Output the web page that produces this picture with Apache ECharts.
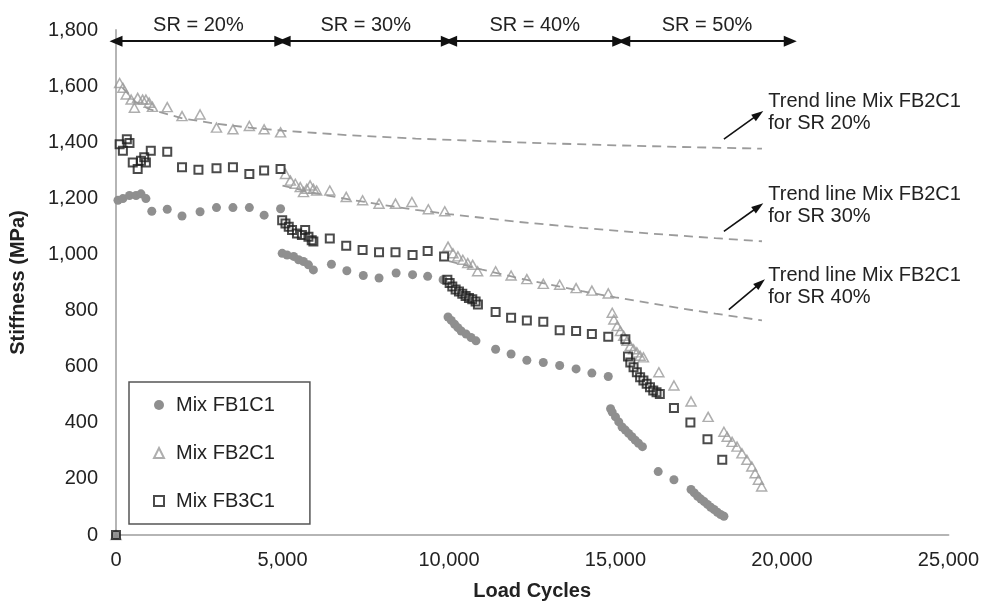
<!DOCTYPE html>
<html>
<head>
<meta charset="utf-8">
<script src="https://cdn.jsdelivr.net/npm/echarts/dist/echarts.min.js"></script>
<style>
html,body{margin:0;padding:0;background:#ffffff;}
#chart{width:982px;height:606px;}
</style>
</head>
<body>
<div id="chart"></div>
<script>
// ---------------- data ----------------
const xTickValues = [0, 5000, 10000, 15000, 20000, 25000];
const yTickValues = [0, 200, 400, 600, 800, 1000, 1200, 1400, 1600, 1800];

const seriesNames = ['Mix FB1C1', 'Mix FB2C1', 'Mix FB3C1'];

const fb1Cycles = [0,
  59, 207, 405, 602, 750, 898, 1075, 1539, 1983, 2525, 3018, 3512, 4005, 4449, 4942,
  4991, 5139, 5336, 5484, 5632, 5780, 5928, 6470, 6933, 7427, 7900, 8413, 8907, 9360, 9824,
  9972, 10070, 10169, 10268, 10366, 10515, 10663, 10811, 11401, 11866, 12339, 12833, 13325, 13818, 14292, 14784,
  14854, 14903, 15002, 15100, 15199, 15298, 15396, 15495, 15594, 15692, 15811,
  16284, 16757,
  17270, 17369, 17468, 17566, 17665, 17764, 17862, 17961, 18060, 18158, 18257];
const fb1Stiffness = [0,
  1193, 1199, 1210, 1210, 1216, 1199, 1154, 1161, 1137, 1152, 1167, 1167, 1167, 1140, 1163,
  1004, 998, 993, 981, 975, 963, 945, 965, 942, 925, 916, 934, 928, 922, 910,
  777, 765, 751, 739, 727, 716, 704, 692, 662, 645, 623, 615, 604, 592, 577, 565,
  450, 438, 421, 403, 385, 374, 362, 350, 338, 327, 315,
  226, 197,
  162, 150, 138, 128, 119, 109, 99, 91, 81, 73, 67];

const fb2Cycles = [0,
  109, 207, 306, 454, 552, 651, 799, 898, 996, 1095, 1539, 1983, 2525, 3018, 3512, 4005, 4449, 4942,
  5090, 5237, 5385, 5533, 5631, 5730, 5829, 5928, 6026, 6421, 6914, 7406, 7900, 8394, 8887, 9380, 9874,
  9972, 10120, 10268, 10416, 10564, 10712, 10860, 11401, 11866, 12339, 12833, 13325, 13818, 14292, 14784,
  14903, 14952, 15051, 15150, 15248, 15347, 15446, 15544, 15643, 15741, 15840,
  16304, 16757, 17270, 17784, 18257,
  18355, 18503, 18651, 18799, 18947, 19095, 19194, 19293, 19391];
const fb2Stiffness = [0,
  1611, 1594, 1570, 1552, 1523, 1558, 1552, 1552, 1541, 1526, 1525, 1493, 1499, 1452, 1446, 1458, 1446, 1435,
  1287, 1263, 1252, 1240, 1222, 1234, 1246, 1234, 1228, 1228, 1205, 1193, 1181, 1181, 1187, 1161, 1154,
  1028, 1004, 993, 981, 969, 963, 940, 940, 925, 912, 895, 892, 880, 871, 861,
  792, 768, 745, 727, 710, 692, 674, 662, 651, 639, 633,
  580, 533, 476, 421, 368,
  350, 332, 315, 291, 268, 244, 220, 197, 173];

const fb3Cycles = [0,
  109, 207, 326, 405, 503, 651, 750, 848, 898, 1045, 1539, 1983, 2476, 3018, 3512, 4005, 4449, 4942,
  4991, 5090, 5188, 5287, 5435, 5583, 5681, 5780, 5878, 5928, 6421, 6914, 7406, 7900, 8394, 8907, 9360, 9854,
  9952, 10021, 10100, 10200, 10300, 10400, 10500, 10600, 10700, 10800, 10870,
  11401, 11866, 12339, 12833, 13325, 13818, 14292, 14784,
  15298, 15376, 15446, 15544, 15643, 15741, 15840, 15938, 16037, 16135, 16234, 16333,
  16757, 17251, 17764, 18208];
const fb3Stiffness = [0,
  1393, 1370, 1411, 1397, 1328, 1305, 1334, 1346, 1328, 1370, 1366, 1311, 1302, 1307, 1311, 1287, 1299, 1305,
  1122, 1110, 1099, 1087, 1075, 1069, 1087, 1063, 1051, 1046, 1057, 1031, 1016, 1008, 1008, 998, 1012, 993,
  910, 898, 886, 875, 868, 860, 852, 845, 840, 832, 822,
  795, 774, 765, 760, 730, 727, 716, 707,
  698, 636, 615, 598, 580, 562, 551, 539, 527, 515, 509, 503,
  453, 401, 341, 268];

// dashed trend lines of Mix FB2C1
const trend20Cycles = [200, 600, 1000, 2000, 3000, 4000, 5000, 7000, 9000, 11000, 13000, 15000, 17000, 19400];
const trend20Stiffness = [1594, 1542, 1518, 1485, 1466, 1452, 1441, 1425, 1413, 1404, 1396, 1389, 1383, 1377];
const trend30Cycles = [5000, 6000, 7000, 8000, 9000, 10000, 12000, 14000, 16000, 18000, 19400];
const trend30Stiffness = [1245, 1218, 1196, 1177, 1159, 1144, 1117, 1095, 1075, 1058, 1047];
const trend40Cycles = [10000, 11000, 12000, 13000, 14000, 15000, 16000, 17000, 18000, 19400];
const trend40Stiffness = [976, 946, 918, 893, 869, 847, 827, 807, 789, 765];

// strain-ratio bands shown at the top
const srLabels = ['SR = 20%', 'SR = 30%', 'SR = 40%', 'SR = 50%'];
const srFrom = [0, 5050, 10050, 15250];
const srTo = [4950, 9950, 15100, 20250];

const trendNotes = ['Trend line Mix FB2C1\nfor SR 20%', 'Trend line Mix FB2C1\nfor SR 30%', 'Trend line Mix FB2C1\nfor SR 40%'];

// ---------------- annotation placement (data coordinates) ----------------
const SR_LEVEL = 1760;
const noteArrowFrom = [[18257, 1411], [18257, 1082], [18405, 803]];
const noteArrowTo = [[19293, 1499], [19293, 1170], [19352, 898]];
const noteTextX = 19590;
const noteTextY = [1506, 1174, 887];

// ---------------- chart ----------------
const FONT = '"Liberation Sans", Arial, Helvetica, sans-serif';
const zip = (a, b) => a.map((v, i) => [v, b[i]]);
const fmt = v => Number(v).toLocaleString('en-US');

const chart = echarts.init(document.getElementById('chart'), null, {renderer: 'canvas'});

const trendStyle = {color: '#9b9b9b', width: 1.8, type: [9, 6]};

const option = {
  backgroundColor: '#ffffff',
  animation: false,
  textStyle: {fontFamily: FONT},
  grid: {left: 113, right: 24, top: 30, bottom: 67, containLabel: false},
  xAxis: {
    type: 'value', min: 0, max: 25000, interval: 5000,
    name: 'Load Cycles', nameLocation: 'middle', nameGap: 46,
    nameTextStyle: {fontFamily: FONT, fontSize: 20, fontWeight: 'bold', color: '#222'},
    axisLine: {show: true, onZero: false, lineStyle: {color: '#b5b5b5', width: 2}},
    axisTick: {show: false},
    splitLine: {show: false},
    axisLabel: {margin: 15, fontSize: 20, color: '#222', fontFamily: FONT,
      formatter: v => xTickValues.indexOf(v) >= 0 ? fmt(v) : ''}
  },
  yAxis: {
    type: 'value', min: 0, max: 1800, interval: 200,
    name: 'Stiffness (MPa)', nameLocation: 'middle', nameGap: 88,
    nameTextStyle: {fontFamily: FONT, fontSize: 20, fontWeight: 'bold', color: '#222'},
    axisLine: {show: true, onZero: false, lineStyle: {color: '#b5b5b5', width: 2}},
    axisTick: {show: false},
    splitLine: {show: false},
    axisLabel: {margin: 18, fontSize: 20, color: '#222', fontFamily: FONT,
      formatter: v => yTickValues.indexOf(v) >= 0 ? fmt(v) : ''}
  },
  legend: {
    data: seriesNames,
    orient: 'vertical', left: 129, top: 382,
    padding: [13, 35, 13, 24], itemGap: 28, itemWidth: 10, itemHeight: 10,
    borderColor: '#555', borderWidth: 1.5, backgroundColor: '#fff',
    textStyle: {fontFamily: FONT, fontSize: 20, color: '#222', padding: [0, 0, 0, 7]}
  },
  series: [
    {
      name: 'trend20', type: 'line', data: zip(trend20Cycles, trend20Stiffness),
      showSymbol: false, symbol: 'none', lineStyle: trendStyle, z: 1, silent: true,
      markLine: {
        silent: true, symbol: ['none', 'triangle'], symbolSize: [8, 12],
        lineStyle: {color: '#111', width: 1.6, type: 'solid'}, label: {show: false},
        data: [[{coord: noteArrowFrom[0]}, {coord: noteArrowTo[0]}]]
      }
    },
    {
      name: 'trend30', type: 'line', data: zip(trend30Cycles, trend30Stiffness),
      showSymbol: false, symbol: 'none', lineStyle: trendStyle, z: 1, silent: true,
      markLine: {
        silent: true, symbol: ['none', 'triangle'], symbolSize: [8, 12],
        lineStyle: {color: '#111', width: 1.6, type: 'solid'}, label: {show: false},
        data: [[{coord: noteArrowFrom[1]}, {coord: noteArrowTo[1]}]]
      }
    },
    {
      name: 'trend40', type: 'line', data: zip(trend40Cycles, trend40Stiffness),
      showSymbol: false, symbol: 'none', lineStyle: trendStyle, z: 1, silent: true,
      markLine: {
        silent: true, symbol: ['none', 'triangle'], symbolSize: [8, 12],
        lineStyle: {color: '#111', width: 1.6, type: 'solid'}, label: {show: false},
        data: [[{coord: noteArrowFrom[2]}, {coord: noteArrowTo[2]}]]
      }
    },
    {
      name: seriesNames[0], type: 'scatter', data: zip(fb1Cycles, fb1Stiffness),
      symbol: 'circle', symbolSize: 9, z: 2,
      itemStyle: {color: '#8f8f8f', opacity: 1}
    },
    {
      name: seriesNames[1], type: 'scatter', data: zip(fb2Cycles, fb2Stiffness),
      symbol: 'triangle', symbolSize: [10, 9], z: 3,
      itemStyle: {color: 'rgba(255,255,255,0)', borderColor: '#9a9a9a', borderWidth: 1.5}
    },
    {
      name: seriesNames[2], type: 'scatter', data: zip(fb3Cycles, fb3Stiffness),
      symbol: 'rect', symbolSize: 8, z: 4,
      itemStyle: {color: 'rgba(255,255,255,0)', borderColor: '#1e1e1e', borderWidth: 2}
    },
    {
      name: 'srBands', type: 'line', data: [], z: 5, silent: true,
      markLine: {
        silent: true, symbol: ['triangle', 'triangle'], symbolSize: [11, 13],
        lineStyle: {color: '#111', width: 2, type: 'solid'},
        label: {show: true, position: 'middle', distance: 6, fontFamily: FONT, fontSize: 20, color: '#222',
          formatter: p => p.name},
        data: srLabels.map((t, i) => [
          {name: t, coord: [srFrom[i], SR_LEVEL]},
          {coord: [srTo[i], SR_LEVEL]}
        ])
      }
    }
  ]
};
chart.setOption(option);

const notes = trendNotes.map((t, i) => {
  const p = chart.convertToPixel({gridIndex: 0}, [noteTextX, noteTextY[i]]);
  return {
    type: 'text', x: p[0], y: p[1], silent: true, z: 10,
    style: {text: t, fontFamily: FONT, fontSize: 20, fill: '#222', lineHeight: 22,
      textAlign: 'left', textVerticalAlign: 'middle', verticalAlign: 'middle'}
  };
});
chart.setOption({graphic: notes});
</script>
</body>
</html>
